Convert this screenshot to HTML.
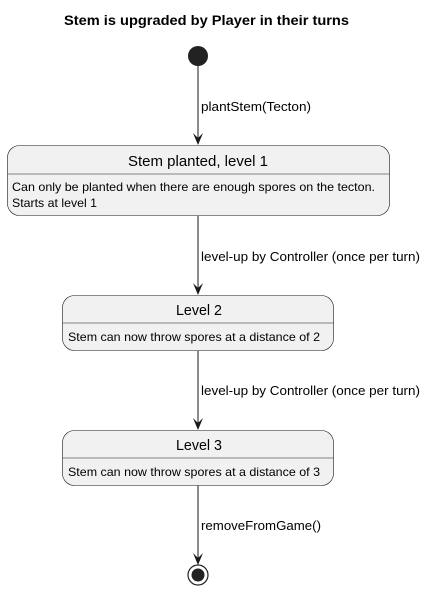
<!DOCTYPE html>
<html><head><style>body{margin:0;background:#fff}text{font-family:"Liberation Sans",sans-serif;fill:#000}</style></head>
<body>
<svg width="426" height="591" xmlns="http://www.w3.org/2000/svg">
<text x="64" y="25" font-size="13.5" font-weight="bold" textLength="285" lengthAdjust="spacingAndGlyphs">Stem is upgraded by Player in their turns</text>
<circle cx="198" cy="56" r="10" fill="#222"/>
<g stroke="#181818" stroke-width="1" fill="none">
<line x1="198" y1="66" x2="198" y2="143"/>
<line x1="198" y1="216" x2="198" y2="293"/>
<line x1="198" y1="351" x2="198" y2="428"/>
<line x1="198" y1="485" x2="198" y2="563"/>
</g>
<g fill="#181818">
<polygon points="193,133 198,145 203,133 198,138"/>
<polygon points="193,283 198,295 203,283 198,288"/>
<polygon points="193,418 198,430 203,418 198,423"/>
<polygon points="193,553 198,565 203,553 198,558"/>
</g>
<g font-size="12.5">
<text x="201" y="111" textLength="110" lengthAdjust="spacingAndGlyphs">plantStem(Tecton)</text>
<text x="201" y="261" textLength="219" lengthAdjust="spacingAndGlyphs">level-up by Controller (once per turn)</text>
<text x="201" y="395" textLength="219" lengthAdjust="spacingAndGlyphs">level-up by Controller (once per turn)</text>
<text x="201" y="530" textLength="120" lengthAdjust="spacingAndGlyphs">removeFromGame()</text>
</g>
<g fill="#f1f1f1" stroke="#181818" stroke-width="0.6">
<rect x="7.5" y="145.5" width="382" height="70" rx="12"/>
<rect x="62.5" y="295.5" width="271" height="55" rx="12"/>
<rect x="62.5" y="430.5" width="271" height="55" rx="12"/>
<line x1="7.5" y1="174" x2="389.5" y2="174"/>
<line x1="62.5" y1="323" x2="333.5" y2="323"/>
<line x1="62.5" y1="458" x2="333.5" y2="458"/>
</g>
<text x="128" y="166" font-size="14.5" textLength="140" lengthAdjust="spacingAndGlyphs">Stem planted, level 1</text>
<text x="12" y="191" font-size="12" textLength="363" lengthAdjust="spacingAndGlyphs">Can only be planted when there are enough spores on the tecton.</text>
<text x="12" y="207" font-size="12" textLength="85" lengthAdjust="spacingAndGlyphs">Starts at level 1</text>
<text x="176" y="315" font-size="14.5" textLength="46" lengthAdjust="spacingAndGlyphs">Level 2</text>
<text x="68" y="341" font-size="12" textLength="252" lengthAdjust="spacingAndGlyphs">Stem can now throw spores at a distance of 2</text>
<text x="176" y="450" font-size="14.5" textLength="46" lengthAdjust="spacingAndGlyphs">Level 3</text>
<text x="68" y="476" font-size="12" textLength="252" lengthAdjust="spacingAndGlyphs">Stem can now throw spores at a distance of 3</text>
<circle cx="198" cy="575" r="10" fill="none" stroke="#222" stroke-width="1.2"/>
<circle cx="198" cy="575" r="6.5" fill="#222"/>
</svg>
</body></html>
